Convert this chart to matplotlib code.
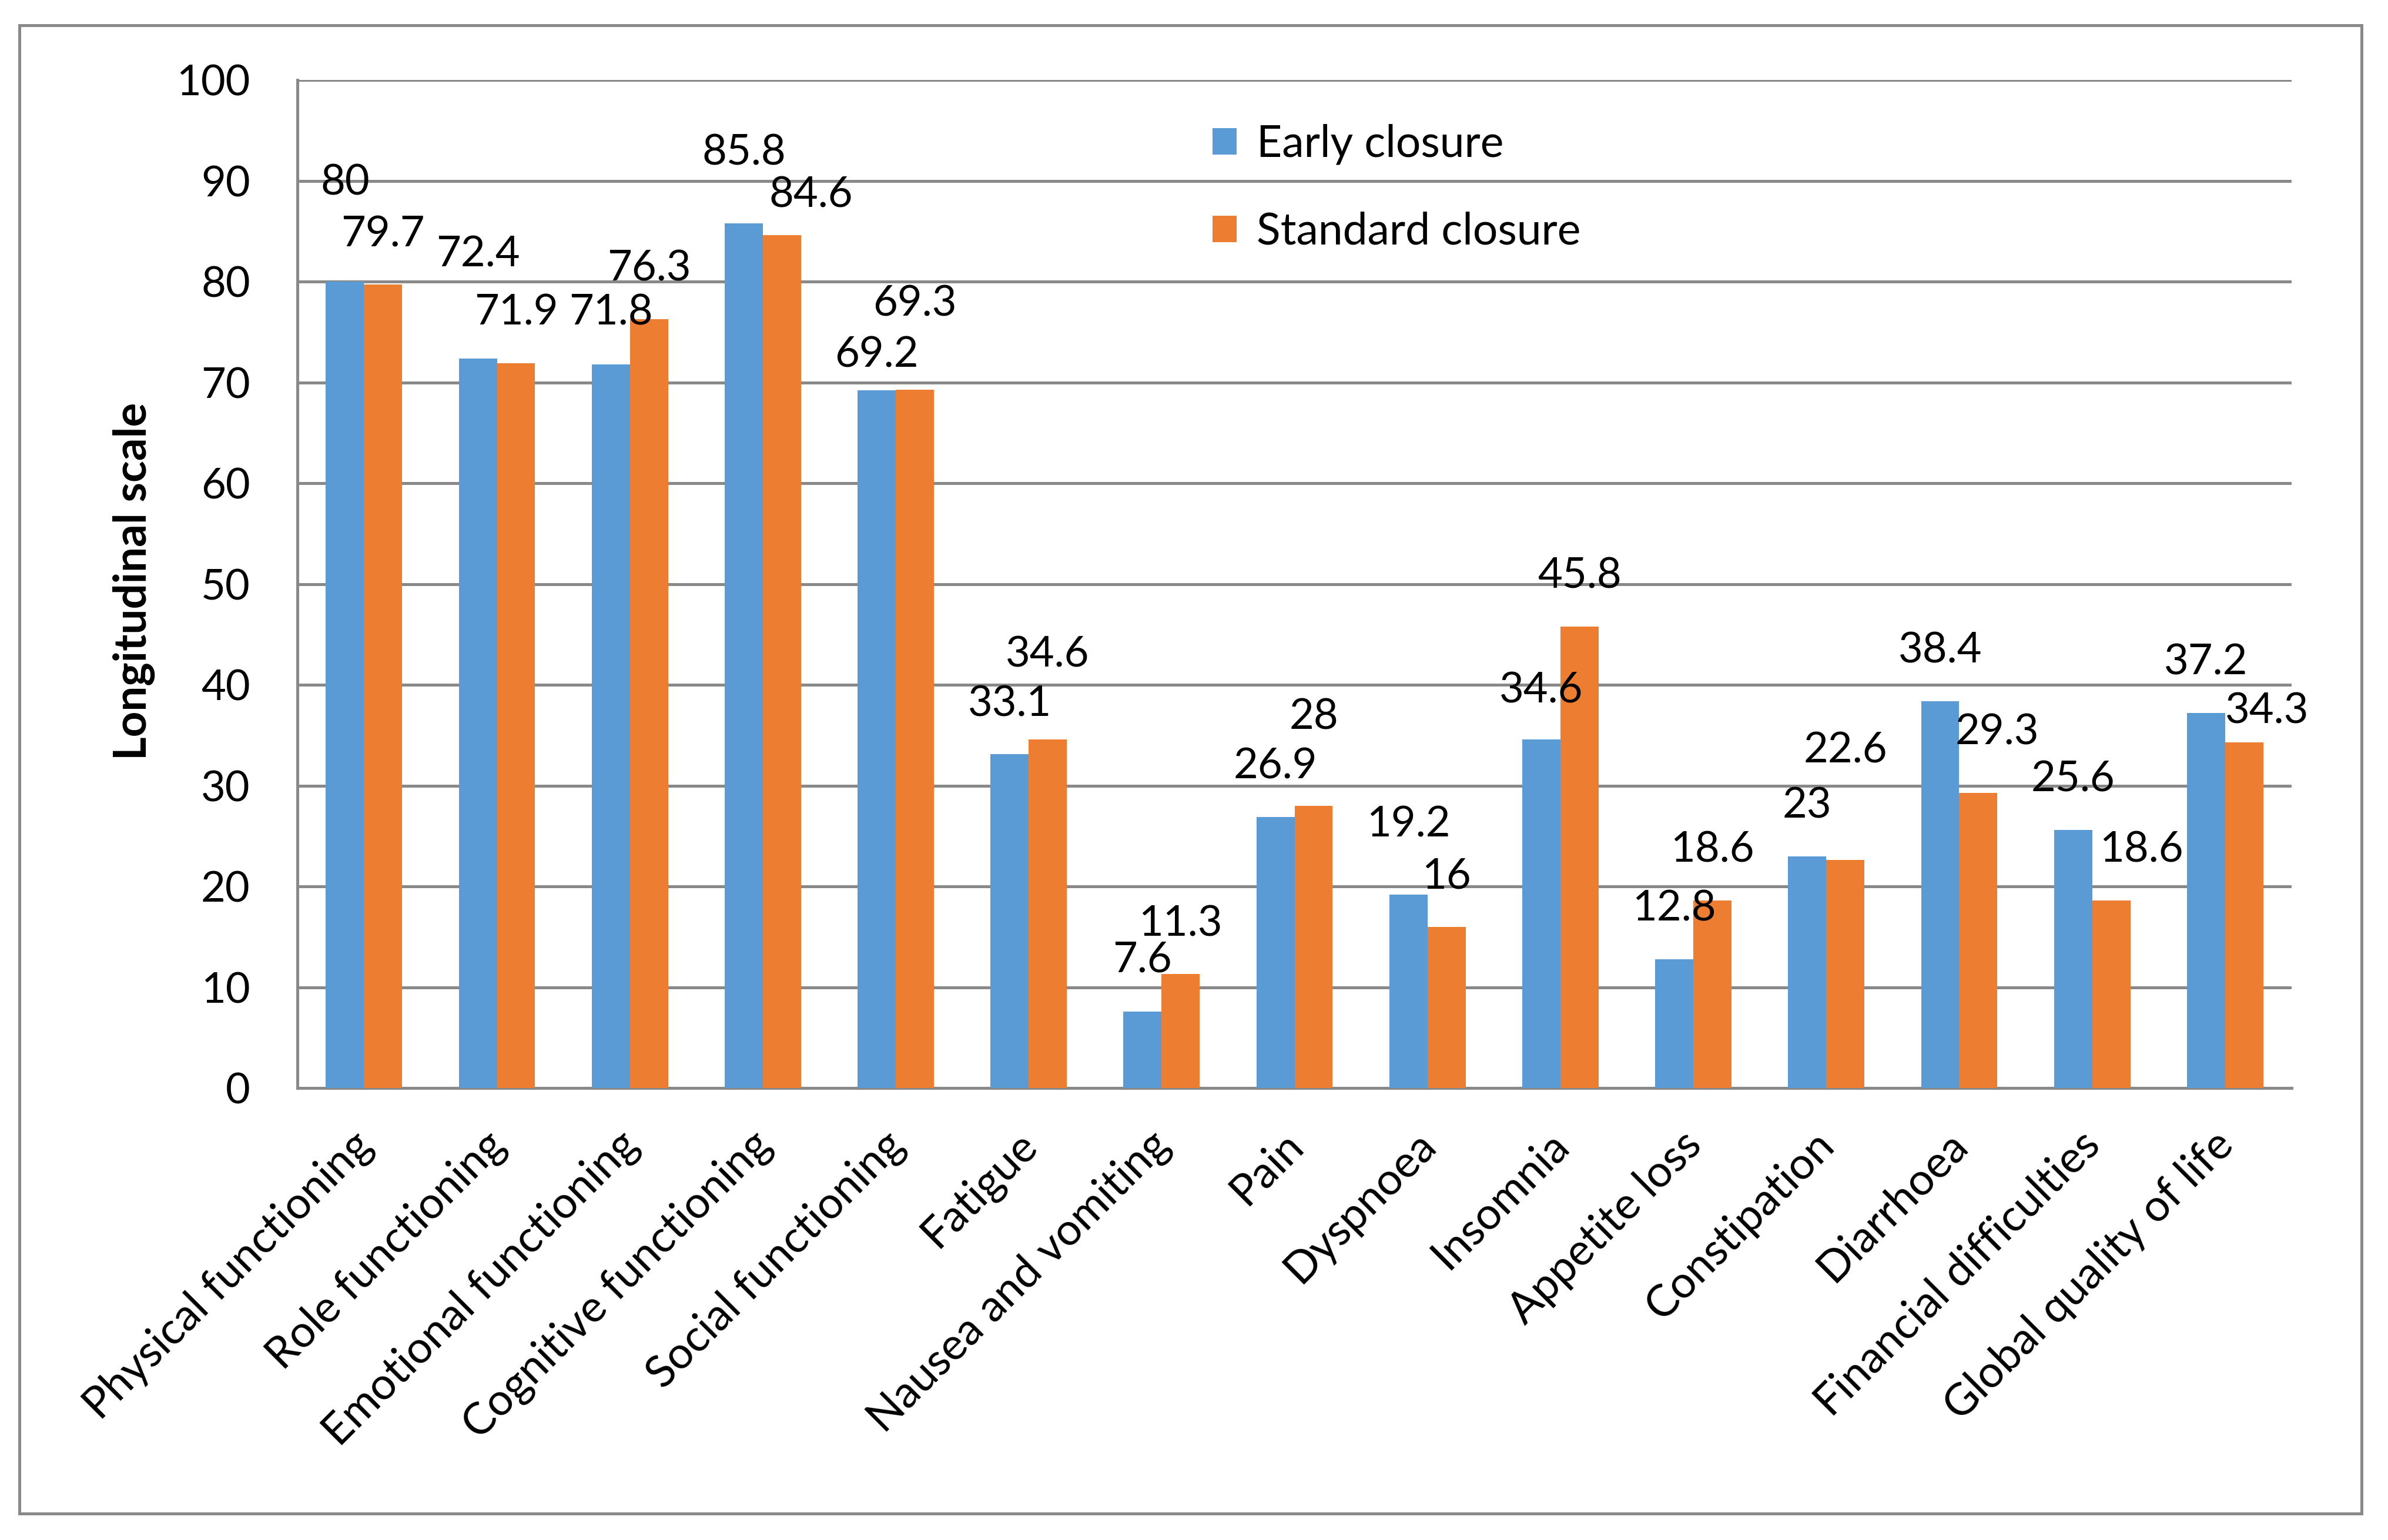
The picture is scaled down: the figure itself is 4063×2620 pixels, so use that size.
import matplotlib
matplotlib.use("Agg")
import matplotlib.pyplot as plt
import matplotlib.transforms as mtransforms
import numpy as np

plt.rcParams['font.family'] = ['Lato', 'DejaVu Sans']

categories = ["Physical functioning", "Role functioning", "Emotional functioning",
              "Cognitive functioning", "Social functioning", "Fatigue",
              "Nausea and vomiting", "Pain", "Dyspnoea", "Insomnia",
              "Appetite loss", "Constipation", "Diarrhoea",
              "Financial difficulties", "Global quality of life"]
early = [80, 72.4, 71.8, 85.8, 69.2, 33.1, 7.6, 26.9, 19.2, 34.6, 12.8, 23, 38.4, 25.6, 37.2]
standard = [79.7, 71.9, 76.3, 84.6, 69.3, 34.6, 11.3, 28, 16, 45.8, 18.6, 22.6, 29.3, 18.6, 34.3]
series_names = ["Early closure", "Standard closure"]
yticks = [0, 10, 20, 30, 40, 50, 60, 70, 80, 90, 100]

# where the source chart put its value labels:
# x shift from the bar centre (category units), y above the bar top (data units)
early_dx = [0] * 15
early_dy = [9.8, 10.3, 5.1, 7.0, 3.5, 5.0, 5.1, 5.0, 6.9, 4.8, 5.0, 5.0, 5.0, 5.0, 5.0]
std_dx = [0, 0, 0, 0.22, 0, 0, 0, 0, 0, 0, 0, 0, 0.14, 0.225, 0.17]
std_dy = [5.0, 5.0, 5.0, 4.0, 8.5, 8.4, 5.0, 8.8, 5.0, 5.0, 5.0, 10.9, 6.0, 5.0, 3.1]

blue = "#5B9BD5"
orange = "#ED7D31"
grid_c = "#898989"

fig = plt.figure(figsize=(40.63, 26.2), dpi=100)
ax = fig.add_axes([0.1246, 0.2935, 0.835, 0.6545])

x = np.arange(len(categories))
w = 0.287
ax.bar(x - w / 2, early, w, color=blue, label=series_names[0], zorder=3)
ax.bar(x + w / 2, standard, w, color=orange, label=series_names[1], zorder=3)

fs = 52
for i in range(len(categories)):
    ax.text(x[i] - w / 2 + early_dx[i], early[i] + early_dy[i], f"{early[i]:g}",
            ha="center", va="center", fontsize=fs, zorder=4)
    ax.text(x[i] + w / 2 + std_dx[i], standard[i] + std_dy[i], f"{standard[i]:g}",
            ha="center", va="center", fontsize=fs, zorder=4)

ax.set_xlim(-0.5, len(categories) - 0.5)
ax.set_ylim(0, 100)
ax.set_yticks(yticks)
ax.yaxis.grid(True, color=grid_c, linewidth=3.6, zorder=0)
ax.set_axisbelow(True)
for s in ["top", "right"]:
    ax.spines[s].set_visible(False)
for s in ["left", "bottom"]:
    ax.spines[s].set_color(grid_c)
    ax.spines[s].set_linewidth(3.6)
ax.tick_params(axis="y", length=0, pad=58, labelsize=fs)
ax.tick_params(axis="x", length=0, pad=44, labelsize=54)
ax.set_xticks(x)
ax.set_xticklabels(categories, rotation=45, ha="right", va="top",
                   rotation_mode="anchor")
shift = mtransforms.ScaledTranslation(-16 / 72, 0, fig.dpi_scale_trans)
for lab in ax.get_xticklabels():
    lab.set_transform(lab.get_transform() + shift)

fig.text(0.056, 0.6225, "Longitudinal scale", rotation=90, fontsize=55,
         fontweight="bold", ha="center", va="center")

ax.legend(loc="upper left", bbox_to_anchor=(0.450, 0.974), frameon=False,
          fontsize=54, labelspacing=1.06, handlelength=0.55, handleheight=0.55,
          handletextpad=0.45, borderaxespad=0)

border = plt.Rectangle((0.008, 0.017), 0.981, 0.9666, transform=fig.transFigure,
                       fill=False, edgecolor=grid_c, linewidth=3.6)
fig.add_artist(border)

fig.savefig("out.png", dpi=100)
